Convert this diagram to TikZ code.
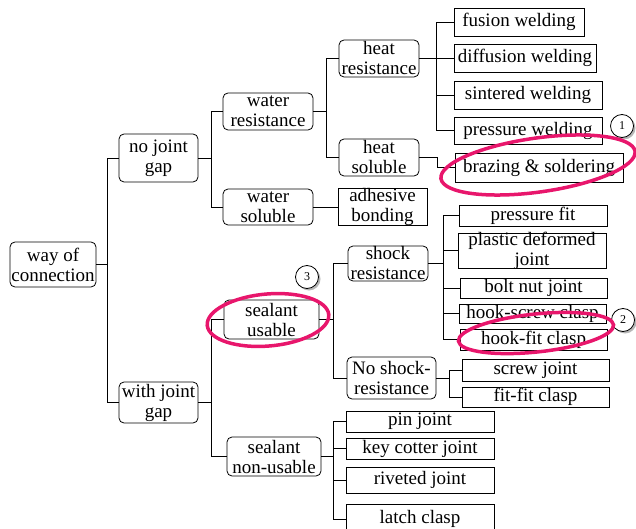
\documentclass[tikz,border=0pt]{standalone}
\usepackage{fontspec}
\setmainfont{Liberation Serif}
\usetikzlibrary{shadows}
\definecolor{ringred}{RGB}{232,22,108}
\tikzset{
  conn/.style={draw, line width=0.8pt},
  rbox/.style={draw, rounded corners=5pt, line width=0.8pt, inner sep=0pt},
  sbox/.style={draw, line width=0.8pt, inner sep=0pt},
  sz/.style 2 args={minimum width=#1, minimum height=#2},
  every label/.style={font=\fontsize{19}{20}\selectfont, align=center, inner sep=0pt},
  num/.style={circle, draw, fill=white, minimum size=23, inner sep=0pt, line width=0.8pt,
    font=\fontsize{12}{12}\selectfont,
    drop shadow={shadow xshift=2pt, shadow yshift=-2pt, fill=gray!80, opacity=0.7}},
  ring/.style={draw=ringred, line width=3.5pt}
}
\begin{document}
\begin{tikzpicture}[x=1pt,y=-1pt]
\useasboundingbox (0,0) rectangle (636,529);
% level 0-1
\node[rbox, sz={86}{45}, label={center:{way of\\connection}}] (root) at (53,264.5) {};
\node[rbox, sz={79}{48}, label={center:{no joint\\gap}}] (njg) at (158.5,158) {};
\node[rbox, sz={79}{41}, label={center:{with joint\\gap}}] (wjg) at (158.5,402.5) {};
% level 2 upper
\node[rbox, sz={90}{37}, label={center:{water\\resistance}}] (wr) at (268,111.5) {};
\node[rbox, sz={90}{36}, label={center:{water\\soluble}}] (ws) at (268,207) {};
\node[rbox, sz={80}{37}, label={center:{heat\\resistance}}] (hr) at (379,58.5) {};
\node[rbox, sz={80}{37}, label={center:{heat\\soluble}}] (hs) at (379,157.5) {};
\node[sbox, sz={89}{37}, label={center:{adhesive\\bonding}}] (ab) at (382.5,206.5) {};
\node[sbox, sz={130}{28}, label={center:{fusion welding}}] (fw) at (519,22) {};
\node[sbox, sz={142}{28}, label={center:{diffusion welding}}] (dw) at (525,58) {};
\node[sbox, sz={148}{28}, label={center:{sintered welding}}] (sw) at (528,95) {};
\node[sbox, sz={148}{27}, label={center:{pressure welding}}] (pw) at (528,130.5) {};
\node[sbox, sz={168}{29}, label={center:{brazing \& soldering}}] (bs) at (539,167.5) {};
% lower
\node[rbox, sz={95}{39}, label={center:{sealant\\usable}}] (su) at (271.5,319.5) {};
\node[rbox, sz={94}{39}, label={center:{sealant\\non-usable}}] (sn) at (274,456.5) {};
\node[rbox, sz={80}{35}, label={center:{shock\\resistance}}] (sr) at (388,263.5) {};
\node[rbox, sz={89}{42}, label={center:{No shock-\\resistance}}] (nsr) at (391.5,378) {};
\node[sbox, sz={148}{21}, label={center:{pressure fit}}] (pf) at (533,215.5) {};
\node[sbox, sz={148}{35}, label={center:{plastic deformed\\joint}}] (pd) at (532,250.5) {};
\node[sbox, sz={147}{20}, label={center:{bolt nut joint}}] (bn) at (533.5,288) {};
\node[sbox, sz={147}{19}, label={center:{hook-screw clasp}}] (hsc) at (532.5,313.5) {};
\node[sbox, sz={147}{21}, label={center:{hook-fit clasp}}] (hfc) at (533.5,339.5) {};
\node[sbox, sz={147}{22}, label={center:{screw joint}}] (scj) at (535.5,370) {};
\node[sbox, sz={147}{20}, label={center:{fit-fit clasp}}] (ffc) at (535.5,397) {};
\node[sbox, sz={148}{21}, label={center:{pin joint}}] (pj) at (420,421.5) {};
\node[sbox, sz={148}{21}, label={center:{key cotter joint}}] (kcj) at (420,448.5) {};
\node[sbox, sz={148}{26}, label={center:{riveted joint}}] (rj) at (420,480) {};
\node[sbox, sz={148}{30}, label={center:{latch clasp}}] (lc) at (420,519) {};
% connectors
\draw[conn] (root.east) -- ++(11,0) coordinate (j1) |- (njg.west);
\draw[conn] (j1) |- (wjg.west);
\draw[conn] (njg.east) -- ++(13,0) coordinate (j2) |- (wr.west);
\draw[conn] (j2) |- (ws.west);
\draw[conn] (wr.east) -- ++(13,0) coordinate (j3) |- (hr.west);
\draw[conn] (j3) |- (hs.west);
\draw[conn] (ws.east) -- (ws.east -| ab.west);
\draw[conn] (hr.east) -- ++(17,0) coordinate (j4) |- (fw.west);
\draw[conn] (j4) |- (dw.west);
\draw[conn] (j4) |- (sw.west);
\draw[conn] (j4) |- (pw.west);
\draw[conn] (hs.east) -- ++(18,0) |- (bs.west);
\draw[conn] (wjg.east) -- ++(13,0) coordinate (j5) |- (su.west);
\draw[conn] (j5) |- (sn.west);
\draw[conn] (su.east) -- ++(14,0) coordinate (j6) |- (sr.west);
\draw[conn] (j6) |- (nsr.west);
\draw[conn] (sr.east) -- ++(15,0) coordinate (j7) |- (pf.west);
\draw[conn] (j7) |- (pd.west);
\draw[conn] (j7) |- (bn.west);
\draw[conn] (j7) |- (hsc.west);
\draw[conn] (j7) |- (hfc.west);
\draw[conn] (nsr.east) -- ++(13,0) coordinate (j8) |- (scj.west);
\draw[conn] (j8) |- (ffc.west);
\draw[conn] (sn.east) -- ++(12,0) coordinate (j9) |- (pj.west);
\draw[conn] (j9) |- (kcj.west);
\draw[conn] (j9) |- (rj.west);
\draw[conn] (j9) |- (lc.west);
% numbered circles
\node[num] (n1) at (622,126) {1};
\node[num] (n2) at (623,320) {2};
\node[num] (n3) at (307,277) {3};
% highlight ellipses
\draw[ring, rotate around={8:(538,165)}] (538,165) ellipse [x radius=98, y radius=27];
\draw[ring, rotate around={5:(268,320)}] (268,320) ellipse [x radius=61, y radius=26];
\draw[ring, rotate around={6:(536,333)}] (536,333) ellipse [x radius=78, y radius=19];
\end{tikzpicture}
\end{document}
